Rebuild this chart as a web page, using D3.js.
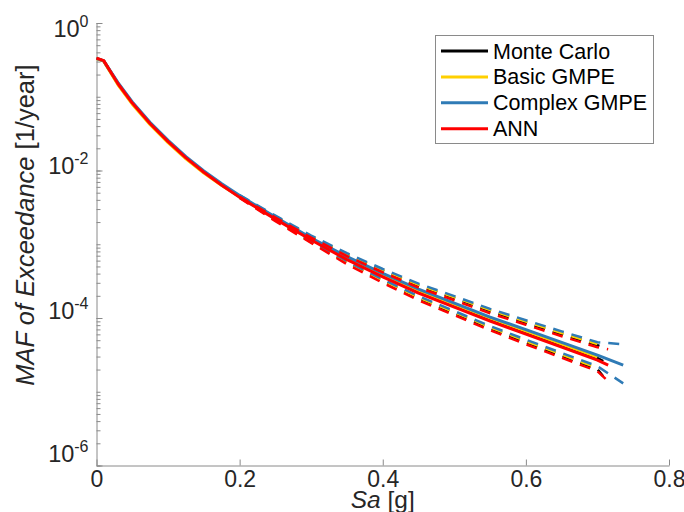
<!DOCTYPE html>
<html>
    <head>
        <script src="https://cdn.jsdelivr.net/npm/d3@7"></script>
        <style>
            body { margin: 0; background: #fff; }
            text { font-family: "Liberation Sans", Arial, sans-serif; }
        </style>
    </head>
    <body>
        <div id="viz"></div>

        <script>
            // Sa grid [g] for the mean curves and for the dashed bounds
            const saGrid = [0, 0.01, 0.03, 0.05, 0.075, 0.10, 0.125, 0.15, 0.175, 0.20, 0.25, 0.30, 0.35, 0.40, 0.45, 0.50, 0.55, 0.60, 0.65, 0.70];
            const saBand = [0.20, 0.25, 0.30, 0.35, 0.40, 0.45, 0.50, 0.55, 0.60, 0.65, 0.70];

            // last Sa point of each series
            const endMC = 0.708, endComplex = 0.736, endANN = 0.715;

            // MAF of exceedance [1/year]
            const mcMean = [0.332, 0.307, 0.150, 0.0821, 0.0432, 0.0247, 0.0149, 0.00954, 0.00638, 0.00443, 0.00226, 0.001173, 0.000647, 0.000381, 0.000231, 0.000149, 0.0000964, 0.0000641, 0.0000428, 0.0000285, 0.0000259];
            const mcUpper = [4.49e-3, 2.37e-3, 1.27e-3, 7.23e-4, 4.38e-4, 2.74e-4, 1.86e-4, 1.24e-4, 8.63e-5, 6.03e-5, 4.28e-5, 4.02e-5];
            const mcLower = [4.36e-3, 2.12e-3, 1.07e-3, 5.63e-4, 3.16e-4, 1.86e-4, 1.16e-4, 7.27e-5, 4.70e-5, 3.08e-5, 2.02e-5, 1.62e-5];

            const basicMean = [0.330, 0.304, 0.145, 0.0793, 0.0417, 0.0239, 0.0144, 0.00922, 0.00625, 0.00440, 0.00226, 0.00118, 0.000656, 0.000388, 0.000237, 0.000153, 0.0000994, 0.0000666, 0.0000444, 0.0000296];
            const basicUpper = [4.47e-3, 2.37e-3, 1.28e-3, 7.32e-4, 4.47e-4, 2.81e-4, 1.91e-4, 1.28e-4, 8.96e-5, 6.26e-5, 4.44e-5];
            const basicLower = [4.33e-3, 2.12e-3, 1.07e-3, 5.70e-4, 3.22e-4, 1.90e-4, 1.20e-4, 7.50e-5, 4.87e-5, 3.20e-5, 2.10e-5];

            const complexMean = [0.332, 0.307, 0.1553, 0.0850, 0.0447, 0.0256, 0.0154, 0.00987, 0.00660, 0.00457, 0.00233, 0.00121, 0.000679, 0.000402, 0.000246, 0.000159, 0.000103, 0.0000694, 0.0000467, 0.0000313, 0.0000229];
            const complexUpper = [4.64e-3, 2.44e-3, 1.31e-3, 7.57e-4, 4.62e-4, 2.92e-4, 1.98e-4, 1.33e-4, 9.34e-5, 6.58e-5, 4.70e-5, 4.41e-5];
            const complexLower = [4.49e-3, 2.19e-3, 1.10e-3, 5.90e-4, 3.33e-4, 1.98e-4, 1.24e-4, 7.79e-5, 5.08e-5, 3.36e-5, 2.22e-5, 1.30e-5];

            const annMean = [0.334, 0.309, 0.150, 0.0820, 0.0431, 0.0246, 0.0148, 0.00948, 0.00632, 0.00432, 0.00219, 0.00114, 0.000618, 0.000361, 0.000217, 0.000140, 0.0000905, 0.0000603, 0.0000402, 0.0000268, 0.0000229];
            const annUpper = [4.38e-3, 2.30e-3, 1.23e-3, 6.90e-4, 4.16e-4, 2.58e-4, 1.74e-4, 1.16e-4, 8.11e-5, 5.66e-5, 4.02e-5, 3.77e-5];
            const annLower = [4.25e-3, 2.06e-3, 1.04e-3, 5.37e-4, 2.99e-4, 1.74e-4, 1.09e-4, 6.83e-5, 4.41e-5, 2.89e-5, 1.90e-5, 1.39e-5];

            const xTicks = [0, 0.2, 0.4, 0.6, 0.8];
            const yTicks = [1, 1e-2, 1e-4, 1e-6];
            const yTickExp = ["0", "-2", "-4", "-6"];

            const seriesNames = ["Monte Carlo", "Basic GMPE", "Complex GMPE", "ANN"];
            const colors = ["#000000", "#ffd000", "#2f7bb6", "#ff0000"];

            const series = [
                {sa: saGrid.concat([endMC]), mean: mcMean, saB: saBand.concat([endMC]), up: mcUpper, lo: mcLower},
                {sa: saGrid, mean: basicMean, saB: saBand, up: basicUpper, lo: basicLower},
                {sa: saGrid.concat([endComplex]), mean: complexMean, saB: saBand.concat([endComplex]), up: complexUpper, lo: complexLower},
                {sa: saGrid.concat([endANN]), mean: annMean, saB: saBand.concat([endANN]), up: annUpper, lo: annLower}
            ];

            const width = 684, height = 512;
            const margin = {left: 96.5, right: 15, top: 23, bottom: 46.5};

            const svg = d3.select("#viz")
                .append("svg")
                .attr("width", width)
                .attr("height", height);

            const x = d3.scaleLinear()
                .domain([0, 0.8])
                .range([margin.left, width - margin.right]);

            const y = d3.scaleLog()
                .domain([1e-6, 1])
                .range([height - margin.bottom, margin.top]);

            const axisColor = "#8a8a8a";
            const textColor = "#262626";

            // x axis, ticks inside
            const gx = svg.append("g")
                .attr("transform", "translate(0," + y(1e-6) + ")")
                .call(d3.axisBottom(x)
                    .tickValues(xTicks)
                    .tickSize(-6)
                    .tickSizeOuter(0)
                    .tickPadding(5)
                    .tickFormat(d => d === 0 ? "0" : d3.format(".1f")(d)));
            gx.select(".domain").attr("stroke", axisColor);
            gx.selectAll(".tick line").attr("stroke", axisColor);
            gx.selectAll(".tick text")
                .attr("fill", textColor)
                .style("font-size", "23px")
                .style("font-family", "'Liberation Sans', Arial, sans-serif");

            // y axis minor ticks
            const gyMinor = svg.append("g")
                .attr("transform", "translate(" + x(0) + ",0)")
                .call(d3.axisLeft(y)
                    .tickValues(y.ticks())
                    .tickSize(-4)
                    .tickSizeOuter(0)
                    .tickFormat(""));
            gyMinor.select(".domain").attr("stroke", axisColor);
            gyMinor.selectAll(".tick line").attr("stroke", axisColor);

            // y axis major ticks with power labels
            const gy = svg.append("g")
                .attr("transform", "translate(" + x(0) + ",0)")
                .call(d3.axisLeft(y)
                    .tickValues(yTicks)
                    .tickSize(-6)
                    .tickSizeOuter(0)
                    .tickFormat(""));
            gy.select(".domain").remove();
            gy.selectAll(".tick line").attr("stroke", axisColor);
            gy.selectAll(".tick text").remove();

            // vertical nudge of each power label, as placed in the figure
            const labelShift = [13, 3, 0, -4];
            const yLab = gy.selectAll(".tick")
                .append("text")
                .attr("x", -8)
                .attr("y", (d, i) => labelShift[i])
                .attr("text-anchor", "end")
                .attr("fill", textColor)
                .style("font-size", "23.5px");
            yLab.append("tspan").text("10");
            yLab.append("tspan")
                .attr("dy", -10)
                .style("font-size", "16px")
                .text((d, i) => yTickExp[i]);

            // axis titles
            const xt = svg.append("text")
                .attr("x", (x(0) + x(0.8)) / 2)
                .attr("y", 508)
                .attr("text-anchor", "middle")
                .attr("fill", textColor)
                .style("font-size", "24.5px");
            xt.append("tspan").style("font-style", "italic").text("Sa");
            xt.append("tspan").text(" [g]");

            const yt = svg.append("text")
                .attr("transform", "translate(34,225) rotate(-90)")
                .attr("text-anchor", "middle")
                .attr("fill", textColor)
                .style("font-size", "25.5px");
            yt.append("tspan").style("font-style", "italic").text("MAF of Exceedance");
            yt.append("tspan").text(" [1/year]");

            // curves
            const line = d3.line()
                .x(d => x(d[0]))
                .y(d => y(d[1]));

            series.forEach((s, i) => {
                svg.append("path")
                    .attr("d", line(s.sa.map((v, k) => [v, s.mean[k]])))
                    .attr("fill", "none")
                    .attr("stroke", colors[i])
                    .attr("stroke-width", 3)
                    .attr("stroke-linejoin", "round");
                [s.up, s.lo].forEach(b => {
                    svg.append("path")
                        .attr("d", line(s.saB.map((v, k) => [v, b[k]])))
                        .attr("fill", "none")
                        .attr("stroke", colors[i])
                        .attr("stroke-width", 2.5)
                        .attr("stroke-dasharray", "11,8");
                });
            });

            // legend
            const lg = svg.append("g");
            lg.append("rect")
                .attr("x", 435.5).attr("y", 35.5)
                .attr("width", 218).attr("height", 108)
                .attr("fill", "#fff")
                .attr("stroke", "#8a8a8a");
            seriesNames.forEach((name, i) => {
                const yy = 51 + i * 25.9;
                lg.append("line")
                    .attr("x1", 441).attr("x2", 488)
                    .attr("y1", yy).attr("y2", yy)
                    .attr("stroke", colors[i])
                    .attr("stroke-width", 3);
                lg.append("text")
                    .attr("x", 493)
                    .attr("y", yy + 7.5)
                    .attr("fill", "#000")
                    .style("font-size", "21.5px")
                    .text(name);
            });
        </script>
    </body>
</html>
